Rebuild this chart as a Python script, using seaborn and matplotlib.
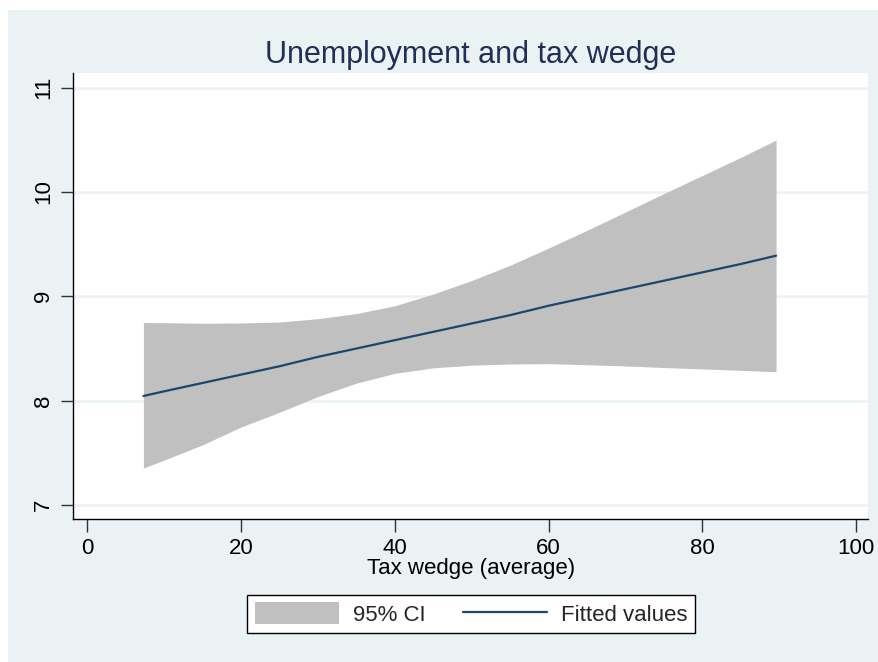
import matplotlib
matplotlib.use("Agg")
import matplotlib.pyplot as plt
from matplotlib.patches import Rectangle, Patch
from matplotlib.lines import Line2D
import numpy as np
import pandas as pd
import seaborn as sns

# Tax wedge grid and linear fit with its 95% confidence band
tax_wedge = [7.3, 10, 15, 20, 25, 30, 35, 40, 45, 50, 55, 60, 65, 70, 75, 80, 85, 89.6]
fitted = [8.045, 8.09, 8.17, 8.25, 8.33, 8.42, 8.50, 8.58, 8.66, 8.74, 8.82, 8.91,
          8.99, 9.07, 9.15, 9.23, 9.31, 9.39]
ci_upper = [8.749, 8.748, 8.742, 8.745, 8.754, 8.786, 8.835, 8.910, 9.022, 9.152, 9.298,
            9.463, 9.633, 9.808, 9.985, 10.158, 10.332, 10.498]
ci_lower = [7.355, 7.431, 7.577, 7.748, 7.889, 8.040, 8.168, 8.262, 8.315, 8.340, 8.352,
            8.355, 8.345, 8.333, 8.318, 8.305, 8.291, 8.278]

x_ticks = [0, 20, 40, 60, 80, 100]
y_ticks = [7, 8, 9, 10, 11]

df = pd.DataFrame({"tax": tax_wedge, "fit": fitted, "lo": ci_lower, "hi": ci_upper})

sns.set_theme(style="white")
plt.rcParams["font.family"] = ["Liberation Sans", "DejaVu Sans"]

BG = "#EAF2F3"
NAVY = "#1A476F"
CI_GREY = "#C0C0C0"

fig = plt.figure(figsize=(8.79, 6.62), dpi=100, facecolor="white")
W, H = 879, 662
fig.patches.append(Rectangle((8 / W, 0), 1, (H - 10) / H, transform=fig.transFigure,
                             facecolor=BG, edgecolor="none", zorder=-10))

left, right, top, bottom = 73.3 / W, 868.3 / W, 1 - 72.7 / H, 1 - 519 / H
ax = fig.add_axes([left, bottom, right - left, top - bottom])
ax.set_zorder(1)
ax.set_facecolor("white")

ax.fill_between(df["tax"], df["lo"], df["hi"], color=CI_GREY, linewidth=0, zorder=2)
sns.lineplot(data=df, x="tax", y="fit", ax=ax, color=NAVY, linewidth=1.6, zorder=3)

ax.set_xlim(-1.82, 101.6)
ax.set_ylim(6.866, 11.144)
ax.set_xticks(x_ticks)
ax.set_yticks(y_ticks)
ax.set_xticklabels([str(t) for t in x_ticks], fontsize=16)
ax.set_yticklabels([str(t) for t in y_ticks], fontsize=16, rotation=90, va="center")

for y in y_ticks:
    ax.axhline(y, color=BG, linewidth=1.8, zorder=1)

for s in ["top", "right"]:
    ax.spines[s].set_visible(False)
for s in ["left", "bottom"]:
    ax.spines[s].set_color("black")
    ax.spines[s].set_linewidth(1.0)

ax.tick_params(axis="both", which="major", length=9, width=1, color="#333333",
               left=True, bottom=True, pad=5, labelcolor="black")

ax.set_xlabel("Tax wedge (average)", fontsize=16, color="black", labelpad=-1)
ax.set_ylabel("")

fig.text(470.8 / W, 1 - 62.7 / H, "Unemployment and tax wedge", fontsize=22,
         color="#1E2F5A", ha="center", va="baseline")

handles = [Patch(facecolor=CI_GREY, edgecolor="none"),
           Line2D([0], [0], color=NAVY, linewidth=1.6)]
leg = fig.legend(handles, ["95% CI", "Fitted values"], ncol=2, fontsize=16,
                 loc="center", bbox_to_anchor=(471 / W, 1 - 614 / H),
                 frameon=True, fancybox=False, framealpha=1, edgecolor="black",
                 handlelength=3.8, handleheight=1.1, handletextpad=0.6,
                 columnspacing=1.7, borderpad=0.35)
leg.get_frame().set_linewidth(1.0)
leg.get_frame().set_facecolor("white")

fig.savefig("out.png", dpi=100, facecolor="white")
